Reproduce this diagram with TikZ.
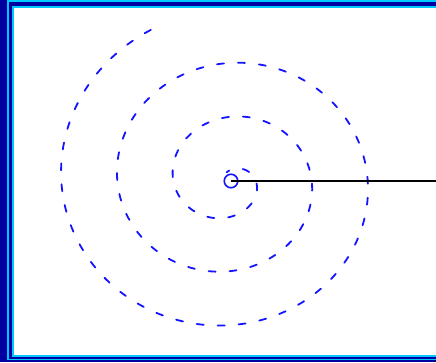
\documentclass[tikz,border=0pt]{standalone}
\definecolor{darkb}{RGB}{0,0,160}
\definecolor{cyanb}{RGB}{0,200,255}
\definecolor{spiralblue}{RGB}{20,20,255}
\tikzset{
  spiralline/.style={draw=spiralblue, line width=1.8pt, dash pattern=on 7pt off 14pt, line cap=round},
  hubcircle/.style={circle, draw=spiralblue, line width=1.6pt, minimum size=13.5pt, inner sep=0pt},
  radius line/.style={draw=black, line width=1.8pt}
}
\begin{document}
\begin{tikzpicture}[x=1pt,y=-1pt]
  \useasboundingbox (0,0) rectangle (436,362);
  % frame
  \fill[darkb] (0,0) rectangle (436,362);
  \fill[cyanb] (7,0) rectangle (436,360);
  \fill[darkb] (9,2) rectangle (436,358.5);
  \fill[cyanb] (12,6) rectangle (436,357);
  \fill[white] (14,8) rectangle (436,355);
  % spiral (drawn from its outer end inwards)
  \draw[spiralline] plot[domain=964:-98, samples=500, smooth]
    ({228.5+(27.2+0.15556*\x)*cos(\x)}, {180.65+(23.15+0.15*\x)*sin(\x)});
  % hub and radius
  \node[hubcircle] (hub) at (231,181) {};
  \coordinate (edge) at (436,181);
  \draw[radius line] (hub.center) -- (edge);
\end{tikzpicture}
\end{document}
